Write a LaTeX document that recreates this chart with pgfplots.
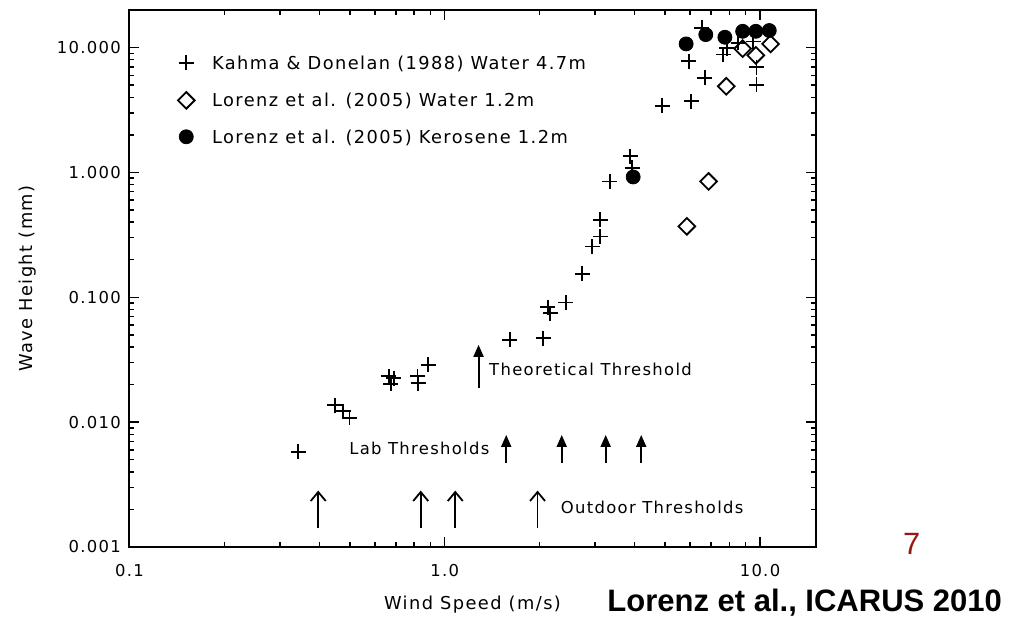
\documentclass[border=0pt]{standalone}
\usepackage{pgfplots}
\pgfplotsset{compat=1.18}
\usetikzlibrary{arrows.meta}
\usepackage{fontspec}
\newfontfamily\idl{DejaVu Sans}[LetterSpace=8]
\newfontfamily\lib{Liberation Sans}
\newcommand\tf{\idl\fontsize{8.2}{10}\selectfont}
\newcommand\lf{\idl\fontsize{8.9}{10}\selectfont}
\definecolor{slidered}{RGB}{150,25,15}
\pgfplotsset{legmark/.style={legend image code/.code={\draw[##1] plot coordinates {(0pt,1.2pt)};}}}
\tikzset{labarrow/.style={line width=1pt, -{Triangle[width=5pt,length=6pt]}},
  outarrow/.style={line width=0.9pt, -{Straight Barb[width=7.5pt,length=4.5pt]}}}

\begin{document}
\begin{tikzpicture}
\useasboundingbox (0pt,0pt) rectangle (517pt,310.5pt);
\begin{axis}[
  at={(64.75pt,37pt)}, anchor=south west,
  scale only axis, width=343pt, height=268.5pt,
  xmode=log, ymode=log,
  xmin=0.1, xmax=15, ymin=0.001, ymax=20,
  font=\tf,
  /pgf/number format/assume math mode=true,
  axis line style={line width=1pt},
  tick style={line width=0.7pt, black},
  major tick length=5pt, minor tick length=2.5pt,
  tick align=inside,
  xtick={0.1,1,10}, xticklabels={0.1,1.0,10.0},
  minor xtick={0.2,0.3,0.4,0.5,0.6,0.7,0.8,0.9,2,3,4,5,6,7,8,9},
  ytick={0.001,0.01,0.1,1,10}, yticklabels={0.001,0.010,0.100,1.000,10.000},
  minor ytick={0.002,0.003,0.004,0.005,0.006,0.007,0.008,0.009,0.02,0.03,0.04,0.05,0.06,0.07,0.08,0.09,0.2,0.3,0.4,0.5,0.6,0.7,0.8,0.9,2,3,4,5,6,7,8,9},
  xticklabel style={anchor=center, yshift=-12pt, font=\tf},
  yticklabel style={anchor=east, xshift=-0.8pt, font=\tf},
  xlabel={Wind Speed (m/s)}, ylabel={Wave Height (mm)},
  every axis x label/.style={at={(axis description cs:0.5,-0.108)}, anchor=center, font=\lf},
  every axis y label/.style={at={(axis description cs:-0.1487,0.5)}, rotate=90, anchor=center, font=\lf},
  legend style={draw=none, fill=none, at={(axis description cs:0.07,0.9167)}, anchor=north west,
    inner sep=0pt, row sep=9.5pt, column sep=8.75pt, font=\lf,
    nodes={inner sep=0pt, text height=6pt, text depth=2pt}},
  legend cell align=left,
  clip=false,
]
\addplot[only marks, mark=+, mark size=3.75pt, line width=0.9pt, black, legmark] coordinates {
(0.343,0.0058) (0.448,0.0137) (0.476,0.0122) (0.499,0.0108)
(0.664,0.0234) (0.69,0.0225) (0.675,0.0203)
(0.82,0.0234) (0.823,0.0205) (0.887,0.0287)
(1.61,0.0457) (2.05,0.047) (2.12,0.0834) (2.16,0.0747) (2.42,0.0908) (2.73,0.154)
(2.94,0.255) (3.11,0.307) (3.11,0.418) (3.34,0.847) (3.88,1.35) (3.93,1.09)
(4.89,3.43) (6.05,3.72) (6.69,5.72) (5.94,7.77) (6.54,14.4)
(7.65,8.8) (7.84,9.9) (8.53,10.9) (9.52,11.2) (9.75,6.95) (9.75,5.05)
};
\addlegendentry{Kahma \& Donelan (1988) Water 4.7m}
\addplot[only marks, mark=square, mark options={rotate=45}, mark size=2.95pt, line width=0.9pt, black, legmark] coordinates {
(5.86,0.37) (6.87,0.847) (7.82,4.9) (8.81,9.8) (9.7,8.67) (10.8,10.7)
};
\addlegendentry{Lorenz et al. (2005) Water 1.2m}
\addplot[only marks, mark=*, mark size=3.5pt, black, legmark] coordinates {
(3.96,0.92) (5.83,10.7) (6.73,12.7) (7.74,12.1) (8.81,13.5) (9.7,13.5) (10.7,13.7)
};
\addlegendentry{Lorenz et al. (2005) Kerosene 1.2m}

% threshold arrows
\draw[labarrow] (axis cs:1.28,0.0188) -- (axis cs:1.28,0.0416);
\draw[labarrow] (axis cs:1.567,0.0047) -- (axis cs:1.567,0.0079);
\draw[labarrow] (axis cs:2.35,0.0047) -- (axis cs:2.35,0.0079);
\draw[labarrow] (axis cs:3.24,0.0047) -- (axis cs:3.24,0.0079);
\draw[labarrow] (axis cs:4.2,0.0047) -- (axis cs:4.2,0.0079);
\draw[outarrow] (axis cs:0.397,0.00141) -- (axis cs:0.397,0.00283);
\draw[outarrow] (axis cs:0.839,0.00141) -- (axis cs:0.839,0.00283);
\draw[outarrow] (axis cs:1.08,0.00141) -- (axis cs:1.08,0.00283);
\draw[outarrow] (axis cs:1.97,0.00141) -- (axis cs:1.97,0.00283);
\node[anchor=west, inner sep=0pt, font=\tf] at (axis cs:1.38,0.0267) {Theoretical Threshold};
\node[anchor=west, inner sep=0pt, font=\tf] at (axis cs:0.497,0.00622) {Lab Thresholds};
\node[anchor=west, inner sep=0pt, font=\tf] at (axis cs:2.33,0.00209) {Outdoor Thresholds};
\end{axis}
\node[font=\lib\fontsize{15.4}{17}\selectfont, text=slidered, inner sep=0pt] at (455.8pt,38.5pt) {7};
\node[font=\lib\bfseries\fontsize{15.5}{17}\selectfont, anchor=west, inner sep=0pt] at (303.5pt,9pt) {Lorenz et al., ICARUS 2010};
\end{tikzpicture}
\end{document}
